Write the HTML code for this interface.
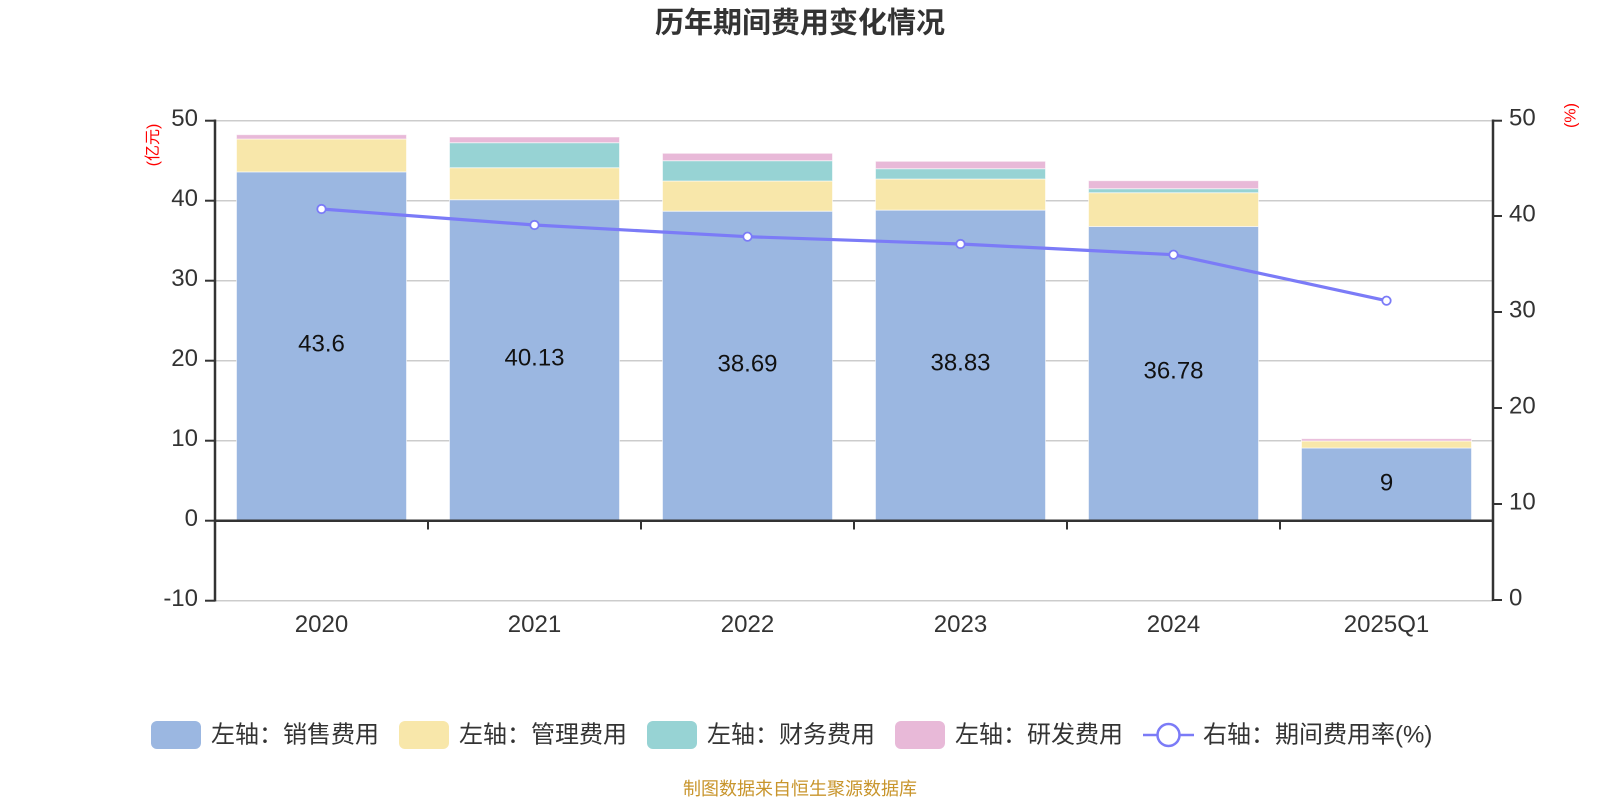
<!DOCTYPE html>
<html>
<head>
<meta charset="utf-8">
<style>
  html,body{margin:0;padding:0;background:#fff;}
  svg{display:block;}
  text{font-family:"Liberation Sans","Noto Sans CJK SC",sans-serif;}
</style>
</head>
<body>
<svg width="1600" height="800" viewBox="0 0 1600 800" xmlns="http://www.w3.org/2000/svg">
  <rect x="0" y="0" width="1600" height="800" fill="#fff"/>
  <!-- Title -->
  <text x="800" y="23.5" text-anchor="middle" dominant-baseline="central" font-size="29" font-weight="bold" fill="#333">历年期间费用变化情况</text>

  <!-- grid lines -->
  <g stroke="#cccccc" stroke-width="1.5">
    <line x1="215" y1="120.7" x2="1493" y2="120.7"/>
    <line x1="215" y1="200.7" x2="1493" y2="200.7"/>
    <line x1="215" y1="280.7" x2="1493" y2="280.7"/>
    <line x1="215" y1="360.7" x2="1493" y2="360.7"/>
    <line x1="215" y1="440.7" x2="1493" y2="440.7"/>
    <line x1="215" y1="600.7" x2="1493" y2="600.7"/>
  </g>

  <!-- bars -->
  <g stroke="rgba(255,255,255,0.55)" stroke-width="1">
    <!-- 2020 -->
    <rect x="236.5" y="171.9" width="170" height="348.8" fill="#9bb7e1"/>
    <rect x="236.5" y="139" width="170" height="32.9" fill="#f8e7aa"/>
    <rect x="236.5" y="134.7" width="170" height="4.3" fill="#e8b9d8"/>
    <!-- 2021 -->
    <rect x="449.5" y="199.7" width="170" height="321" fill="#9bb7e1"/>
    <rect x="449.5" y="167.7" width="170" height="32" fill="#f8e7aa"/>
    <rect x="449.5" y="142.7" width="170" height="25" fill="#97d3d4"/>
    <rect x="449.5" y="137" width="170" height="5.7" fill="#e8b9d8"/>
    <!-- 2022 -->
    <rect x="662.5" y="211.2" width="170" height="309.5" fill="#9bb7e1"/>
    <rect x="662.5" y="181" width="170" height="30.2" fill="#f8e7aa"/>
    <rect x="662.5" y="160.7" width="170" height="20.3" fill="#97d3d4"/>
    <rect x="662.5" y="153.3" width="170" height="7.4" fill="#e8b9d8"/>
    <!-- 2023 -->
    <rect x="875.5" y="210.1" width="170" height="310.6" fill="#9bb7e1"/>
    <rect x="875.5" y="179" width="170" height="31.1" fill="#f8e7aa"/>
    <rect x="875.5" y="168.7" width="170" height="10.3" fill="#97d3d4"/>
    <rect x="875.5" y="161.3" width="170" height="7.4" fill="#e8b9d8"/>
    <!-- 2024 -->
    <rect x="1088.5" y="226.5" width="170" height="294.2" fill="#9bb7e1"/>
    <rect x="1088.5" y="192.7" width="170" height="33.8" fill="#f8e7aa"/>
    <rect x="1088.5" y="188.7" width="170" height="4" fill="#97d3d4"/>
    <rect x="1088.5" y="180.7" width="170" height="8" fill="#e8b9d8"/>
    <!-- 2025Q1 -->
    <rect x="1301.5" y="448" width="170" height="72.7" fill="#9bb7e1"/>
    <rect x="1301.5" y="441" width="170" height="7" fill="#f8e7aa"/>
    <rect x="1301.5" y="438.7" width="170" height="2.3" fill="#e8b9d8"/>
  </g>

  <!-- data labels -->
  <g font-size="24" fill="#111" text-anchor="middle" dominant-baseline="central">
    <text x="321.5" y="344">43.6</text>
    <text x="534.5" y="358">40.13</text>
    <text x="747.5" y="364">38.69</text>
    <text x="960.5" y="363">38.83</text>
    <text x="1173.5" y="371">36.78</text>
    <text x="1386.5" y="483">9</text>
  </g>

  <!-- axes -->
  <g stroke="#333" stroke-width="2.5" fill="none">
    <line x1="215" y1="119.5" x2="215" y2="601.5"/>
    <line x1="1493" y1="119.5" x2="1493" y2="601"/>
    <line x1="214" y1="520.7" x2="1494" y2="520.7"/>
  </g>
  <!-- left ticks -->
  <g stroke="#333" stroke-width="2">
    <line x1="205" y1="120.7" x2="215" y2="120.7"/>
    <line x1="205" y1="200.7" x2="215" y2="200.7"/>
    <line x1="205" y1="280.7" x2="215" y2="280.7"/>
    <line x1="205" y1="360.7" x2="215" y2="360.7"/>
    <line x1="205" y1="440.7" x2="215" y2="440.7"/>
    <line x1="205" y1="520.7" x2="215" y2="520.7"/>
    <line x1="205" y1="600.7" x2="215" y2="600.7"/>
    <!-- right ticks -->
    <line x1="1493" y1="120.7" x2="1502" y2="120.7"/>
    <line x1="1493" y1="216" x2="1502" y2="216"/>
    <line x1="1493" y1="312" x2="1502" y2="312"/>
    <line x1="1493" y1="408" x2="1502" y2="408"/>
    <line x1="1493" y1="504" x2="1502" y2="504"/>
    <line x1="1493" y1="600" x2="1502" y2="600"/>
    <!-- x ticks -->
    <line x1="428" y1="520.7" x2="428" y2="529.5"/>
    <line x1="641" y1="520.7" x2="641" y2="529.5"/>
    <line x1="854" y1="520.7" x2="854" y2="529.5"/>
    <line x1="1067" y1="520.7" x2="1067" y2="529.5"/>
    <line x1="1280" y1="520.7" x2="1280" y2="529.5"/>
  </g>

  <!-- left tick labels -->
  <g font-size="24" fill="#333" text-anchor="end" dominant-baseline="central">
    <text x="198" y="118.7">50</text>
    <text x="198" y="198.7">40</text>
    <text x="198" y="278.7">30</text>
    <text x="198" y="358.7">20</text>
    <text x="198" y="438.7">10</text>
    <text x="198" y="518.7">0</text>
    <text x="198" y="598.7">-10</text>
  </g>
  <!-- right tick labels -->
  <g font-size="24" fill="#333" text-anchor="start" dominant-baseline="central">
    <text x="1509" y="118">50</text>
    <text x="1509" y="214">40</text>
    <text x="1509" y="310">30</text>
    <text x="1509" y="406">20</text>
    <text x="1509" y="502">10</text>
    <text x="1509" y="598">0</text>
  </g>
  <!-- axis names -->
  <text x="153.5" y="145" font-size="16" fill="#ff0000" text-anchor="middle" dominant-baseline="central" transform="rotate(-90 153.5 145)">(亿元)</text>
  <text x="1571" y="115.5" font-size="16" fill="#ff0000" text-anchor="middle" dominant-baseline="central" transform="rotate(-90 1571 115.5)">(%)</text>

  <!-- category labels -->
  <g font-size="24" fill="#333" text-anchor="middle" dominant-baseline="central">
    <text x="321.5" y="624.5">2020</text>
    <text x="534.5" y="624.5">2021</text>
    <text x="747.5" y="624.5">2022</text>
    <text x="960.5" y="624.5">2023</text>
    <text x="1173.5" y="624.5">2024</text>
    <text x="1386.5" y="624.5">2025Q1</text>
  </g>

  <!-- line series -->
  <polyline points="321.5,209 534.5,225 747.5,236.7 960.5,244 1173.5,254.7 1386.5,300.7" fill="none" stroke="#7b7bf7" stroke-width="3.2" stroke-linejoin="round"/>
  <g fill="#fff" stroke="#7b7bf7" stroke-width="1.8">
    <circle cx="321.5" cy="209" r="4.2"/>
    <circle cx="534.5" cy="225" r="4.2"/>
    <circle cx="747.5" cy="236.7" r="4.2"/>
    <circle cx="960.5" cy="244" r="4.2"/>
    <circle cx="1173.5" cy="254.7" r="4.2"/>
    <circle cx="1386.5" cy="300.7" r="4.2"/>
  </g>

  <!-- legend -->
  <g font-size="24" fill="#333" dominant-baseline="central">
    <rect x="151" y="721" width="50" height="28" rx="6" fill="#9bb7e1"/>
    <text x="211" y="735">左轴：销售费用</text>
    <rect x="399" y="721" width="50" height="28" rx="6" fill="#f8e7aa"/>
    <text x="459" y="735">左轴：管理费用</text>
    <rect x="647" y="721" width="50" height="28" rx="6" fill="#97d3d4"/>
    <text x="707" y="735">左轴：财务费用</text>
    <rect x="895" y="721" width="50" height="28" rx="6" fill="#e8b9d8"/>
    <text x="955" y="735">左轴：研发费用</text>
    <line x1="1143" y1="735" x2="1194" y2="735" stroke="#7b7bf7" stroke-width="2.5"/>
    <circle cx="1168.5" cy="735" r="11" fill="#fff" stroke="#7b7bf7" stroke-width="2.5"/>
    <text x="1203" y="735">右轴：期间费用率(%)</text>
  </g>

  <!-- footer -->
  <text x="800" y="789" font-size="18" fill="#c8952c" text-anchor="middle" dominant-baseline="central">制图数据来自恒生聚源数据库</text>
</svg>
</body>
</html>
